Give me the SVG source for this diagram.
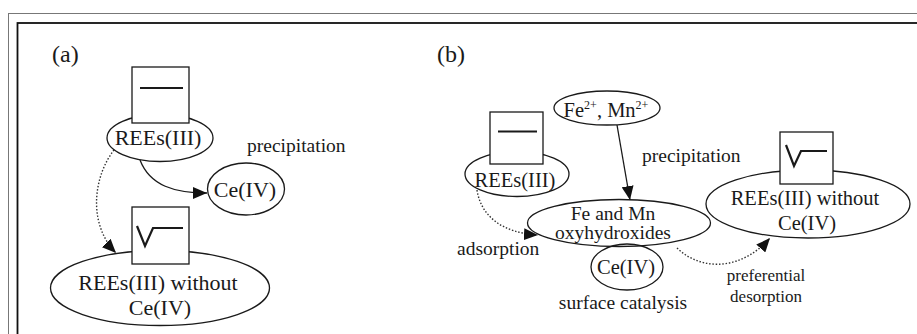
<svg xmlns="http://www.w3.org/2000/svg" width="917" height="334" viewBox="0 0 917 334">
<style>
text{font-family:"Liberation Serif","Times New Roman",serif;fill:#1a1a1a}
.na{font-size:22px}
.nb{font-size:20.5px}
.nc{font-size:19.5px}
.lbl{font-size:19.5px}
.lbs{font-size:17px}
.pl{font-size:24px}
.node{fill:none;stroke:#1a1a1a;stroke-width:1.3}
.box{fill:#fff;stroke:#1a1a1a;stroke-width:1.3}
.glyph{fill:none;stroke:#1a1a1a;stroke-width:2.2}
.edge{fill:none;stroke:#1a1a1a;stroke-width:1.3}
.dot{fill:none;stroke:#333;stroke-width:1.4;stroke-dasharray:1.5 1.8}
</style>
<defs>
<marker id="ah" viewBox="0 0 14 12" refX="14" refY="6" markerWidth="14" markerHeight="12" markerUnits="userSpaceOnUse" orient="auto">
<path d="M0,0 L14,6 L0,12 z" fill="#111"/>
</marker>
</defs>
<rect width="917" height="334" fill="#fff"/>
<rect x="8.5" y="13.5" width="940" height="340" fill="none" stroke="#777" stroke-width="1"/>
<rect x="17.5" y="23" width="930" height="330" fill="none" stroke="#111" stroke-width="1.8"/>
<text class="pl" x="52" y="62">(a)</text>
<text class="pl" x="437" y="62">(b)</text>

<g id="connectors">
<path class="edge" d="M140,160 C150,186 175,193 207,193" marker-end="url(#ah)"/>
<path class="dot" d="M114,150 C95,174 86,222 116,253" marker-end="url(#ah)"/>
<path class="edge" d="M617,125 L630,200" marker-end="url(#ah)"/>
<path class="dot" d="M477,190 C481,216 502,233 538,235" marker-end="url(#ah)"/>
<path class="dot" d="M677,248 C702,272 742,270 770,238" marker-end="url(#ah)"/>
<text class="lbl" x="247" y="152">precipitation</text>
<text class="lbl" x="642" y="162">precipitation</text>
<text class="lbl" x="457" y="255">adsorption</text>
<text class="lbs" x="766" y="281" text-anchor="middle">preferential</text>
<text class="lbs" x="766" y="302" text-anchor="middle">desorption</text>
<text class="lbl" x="623" y="309" text-anchor="middle">surface catalysis</text>
</g>

<g id="a-rees">
<ellipse class="node" cx="160" cy="138" rx="53" ry="23.5"/>
<rect class="box" x="132" y="67" width="57" height="56"/>
<line class="glyph" x1="140" y1="88" x2="183" y2="88"/>
<text class="na" x="158" y="145" text-anchor="middle">REEs(III)</text>
</g>
<g id="a-ce">
<ellipse class="node" cx="246" cy="189" rx="38.5" ry="26"/>
<text class="na" x="245" y="197" text-anchor="middle">Ce(IV)</text>
</g>
<g id="a-rees-without">
<ellipse class="node" cx="160" cy="288" rx="109.5" ry="37.5"/>
<rect class="box" x="132" y="207" width="57" height="57"/>
<polyline class="glyph" points="137,226 145,246 153,228 183,228"/>
<text class="na" x="158" y="290" text-anchor="middle">REEs(III) without</text>
<text class="na" x="160" y="315" text-anchor="middle">Ce(IV)</text>
</g>

<g id="b-fe-mn">
<ellipse class="node" cx="607" cy="108" rx="53" ry="17"/>
<text class="nb" x="606" y="117" text-anchor="middle">Fe<tspan font-size="12" dy="-8">2+</tspan><tspan dy="8">, Mn</tspan><tspan font-size="12" dy="-8">2+</tspan></text>
</g>
<g id="b-rees">
<ellipse class="node" cx="517" cy="174" rx="52" ry="22.5"/>
<rect class="box" x="490" y="112" width="53" height="52"/>
<line class="glyph" x1="498" y1="131.5" x2="537" y2="131.5"/>
<text class="nb" x="515" y="187" text-anchor="middle">REEs(III)</text>
</g>
<g id="b-oxy">
<ellipse class="node" cx="619" cy="223" rx="91.5" ry="23.5"/>
<text class="nc" x="613" y="220" text-anchor="middle">Fe and Mn</text>
<text class="nc" x="613" y="239" text-anchor="middle">oxyhydroxides</text>
</g>
<g id="b-ce">
<ellipse class="node" cx="627" cy="267" rx="36" ry="23"/>
<text class="nb" x="626" y="274" text-anchor="middle">Ce(IV)</text>
</g>
<g id="b-rees-without">
<ellipse class="node" cx="808" cy="204" rx="102" ry="34"/>
<rect class="box" x="780" y="132" width="53" height="52"/>
<polyline class="glyph" points="786,145 794,166 801,151 827,151"/>
<text class="nb" x="805" y="205" text-anchor="middle">REEs(III) without</text>
<text class="nb" x="807" y="230" text-anchor="middle">Ce(IV)</text>
</g>
</svg>
